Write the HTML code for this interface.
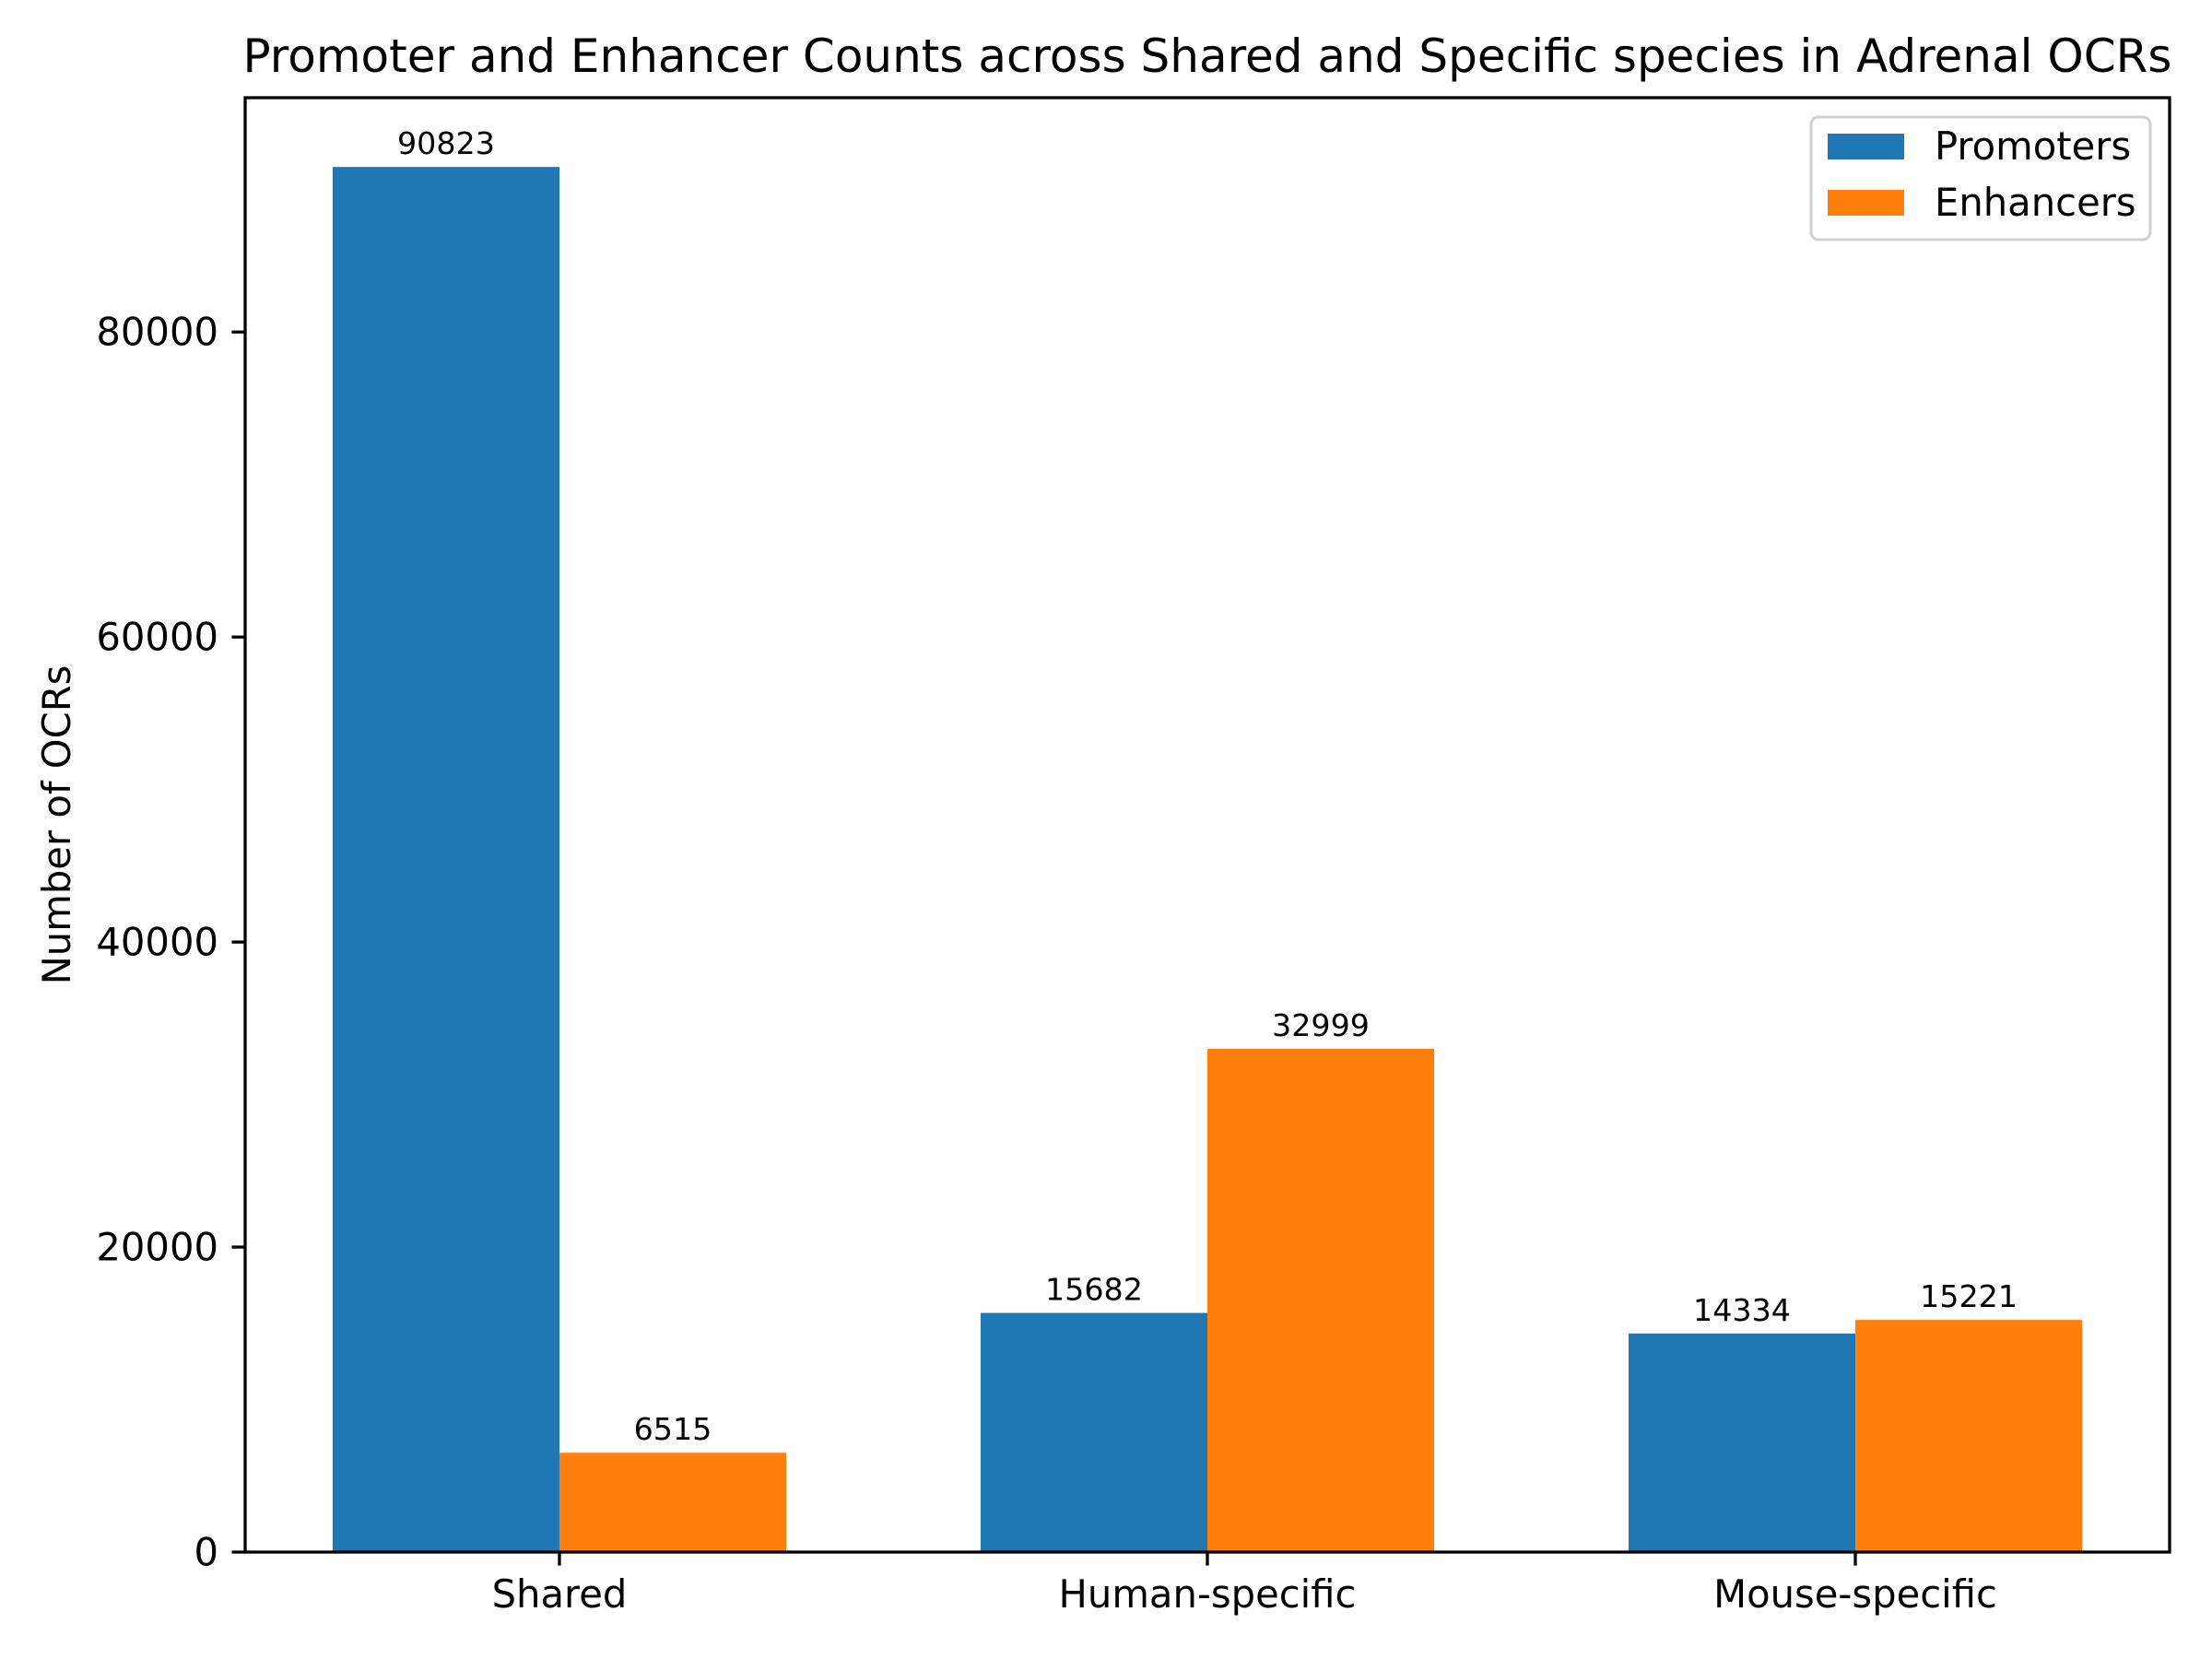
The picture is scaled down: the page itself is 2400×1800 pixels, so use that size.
<!DOCTYPE html>
<html><head><meta charset="utf-8"><style>
html,body{margin:0;padding:0;background:#fff}
svg{display:block;font-family:"DejaVu Sans","Liberation Sans",sans-serif}
</style></head><body>
<svg id="chart" width="2400" height="1800" viewBox="0 0 2400 1800">
<rect x="0" y="0" width="2400" height="1800" fill="#fff"/>
<text x="1310" y="78" font-size="50" text-anchor="middle">Promoter and Enhancer Counts across Shared and Specific species in Adrenal OCRs</text>
<g id="bars"></g>
<g id="labels"></g>
<g id="yticks"></g>
<g id="xticks"></g>
<rect x="266" y="106" width="2088" height="1578" fill="none" stroke="#000" stroke-width="3.3"/>
<text transform="translate(76,895) rotate(-90)" font-size="41.7" text-anchor="middle">Number of OCRs</text>
<g>
<rect x="1965" y="127" width="368" height="133" rx="8" fill="#fff" stroke="#ccc" stroke-width="3" opacity="0.9"/>
<g>
<rect x="1983" y="145" width="83" height="28" fill="#1f77b4"/>
<text x="2099" y="173" font-size="41.7">Promoters</text></g>
<g>
<rect x="1983" y="206" width="83" height="28" fill="#ff7f0e"/>
<text x="2099" y="234" font-size="41.7">Enhancers</text></g>
</g>
</svg>
<script>
const categories = ["Shared", "Human-specific", "Mouse-specific"];
const promoters = [90823, 15682, 14334];
const enhancers = [6515, 32999, 15221];
const yTicks = [0, 20000, 40000, 60000, 80000];

const NS = "http://www.w3.org/2000/svg";
const L = 266, R = 2354, T = 106, B = 1684;
const ymax = Math.max(...promoters, ...enhancers) * 1.05;
const w = 0.35;
const span = (categories.length - 1 + 2 * w);
const x0 = -w - 0.05 * span, x1 = categories.length - 1 + w + 0.05 * span;
const xs = v => L + (v - x0) / (x1 - x0) * (R - L);
const ys = v => B - v / ymax * (B - T);
function mk(tag, attrs, parent) {
  const e = document.createElementNS(NS, tag);
  for (const k in attrs) e.setAttribute(k, attrs[k]);
  parent.appendChild(e); return e;
}
const gb = document.getElementById("bars"), gl = document.getElementById("labels");
const gy = document.getElementById("yticks"), gx = document.getElementById("xticks");
const series = [[promoters, "#1f77b4", -w / 2, "promoters"], [enhancers, "#ff7f0e", w / 2, "enhancers"]];
series.forEach(([vals, col, off, nm]) => {
  vals.forEach((v, i) => {
    const xa = xs(i + off - w / 2), xb = xs(i + off + w / 2);
    const r = mk("rect", {x: xa, y: ys(v), width: xb - xa, height: B - ys(v), fill: col}, gb);
    
    
    const t = mk("text", {x: (xa + xb) / 2, y: ys(v) - 14, "font-size": 33.3, "text-anchor": "middle"}, gl);
    t.textContent = v;
    
    
  });
});
yTicks.forEach(v => {
  const y = ys(v);
  mk("line", {x1: L - 14.6, x2: L, y1: y, y2: y, stroke: "#000", "stroke-width": 3.3}, gy);
  const t = mk("text", {x: L - 29, y: y + 14.5, "font-size": 41.7, "text-anchor": "end"}, gy);
  t.textContent = v;
  
  
});
categories.forEach((c, i) => {
  const x = xs(i);
  mk("line", {x1: x, x2: x, y1: B, y2: B + 14.6, stroke: "#000", "stroke-width": 3.3}, gx);
  const t = mk("text", {x: x, y: B + 60, "font-size": 41.7, "text-anchor": "middle"}, gx);
  t.textContent = c;
  
  
});
</script>
</body></html>
